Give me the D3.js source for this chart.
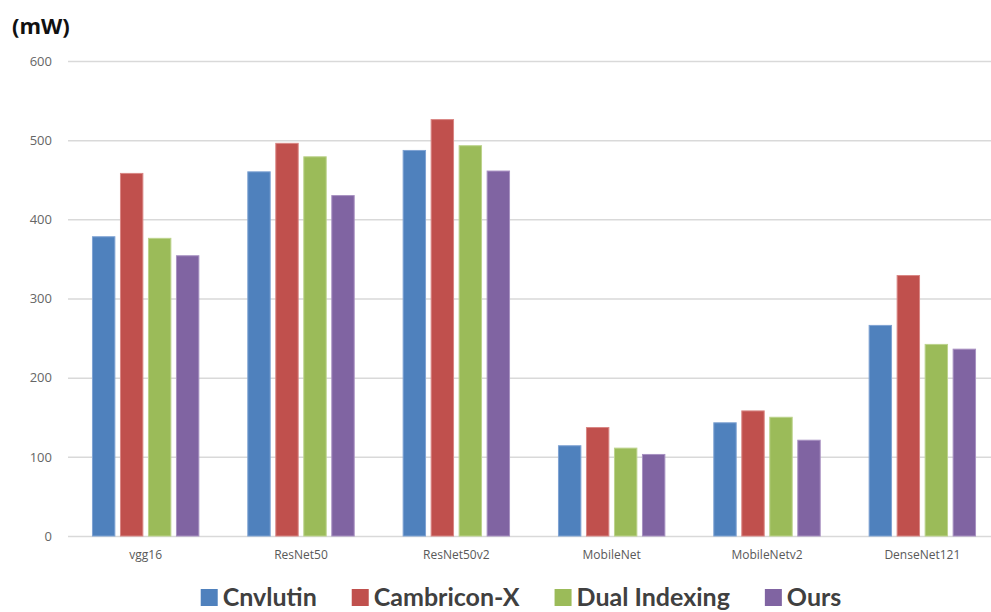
<!DOCTYPE html>
<html>
<head>
<meta charset="utf-8">
<script src="https://cdn.jsdelivr.net/npm/d3@7"></script>
<style>
  html, body { margin: 0; padding: 0; background: #fff; }
  svg { display: block; }
</style>
</head>
<body>
<svg id="chart" width="991" height="612"></svg>
<script>
// Power per network, in mW
const categories = ["vgg16", "ResNet50", "ResNet50v2", "MobileNet", "MobileNetv2", "DenseNet121"];
const seriesNames = ["Cnvlutin", "Cambricon-X", "Dual Indexing", "Ours"];
const cnvlutin     = [378, 460, 487, 114, 143, 266];
const cambriconX   = [458, 496, 526, 137, 158, 329];
const dualIndexing = [376, 479, 493, 111, 150, 242];
const ours         = [354, 430, 461, 103, 121, 236];
const yTicks = [0, 100, 200, 300, 400, 500, 600];
const colors = ["#4F81BD", "#C0504D", "#9BBB59", "#8064A2"];
const strokes = ["#7FA3D3", "#D98684", "#BCD38C", "#A891C2"];

const seriesValues = [cnvlutin, cambriconX, dualIndexing, ours];

const svg = d3.select("#chart");
const plotLeft = 68, plotRight = 1000, plotTop = 61, plotBottom = 536;

const y = d3.scaleLinear().domain([0, 600]).range([plotBottom, plotTop]);
const x0 = d3.scaleBand().domain(categories).range([plotLeft, plotRight]).padding(0);
const groupW = 112;
const x1 = d3.scaleBand().domain(seriesNames).range([-groupW / 2, groupW / 2]).paddingInner(0.2).paddingOuter(0.1);

// Horizontal gridlines and value labels
const yAxis = d3.axisLeft(y).tickValues(yTicks).tickSize(-(plotRight - plotLeft)).tickPadding(16);
const gy = svg.append("g").attr("transform", `translate(${plotLeft},0)`).call(yAxis);
gy.select(".domain").remove();
gy.selectAll(".tick line").attr("stroke", "#d9d9d9").attr("stroke-width", 1.5);
gy.selectAll(".tick text")
  .attr("fill", "#666")
  .style("font-family", "'Open Sans', sans-serif")
  .style("font-size", "13px");

// Bars
const groups = svg.append("g").selectAll("g")
  .data(categories)
  .join("g")
  .attr("transform", c => `translate(${x0(c) + x0.bandwidth() / 2},0)`);

groups.selectAll("rect")
  .data((c, i) => seriesNames.map((s, k) => ({ s, k, v: seriesValues[k][i] })))
  .join("rect")
  .attr("x", d => x1(d.s))
  .attr("width", x1.bandwidth())
  .attr("y", d => y(d.v))
  .attr("height", d => y(0) - y(d.v))
  .attr("fill", d => colors[d.k])
  .attr("stroke", d => strokes[d.k])
  .attr("stroke-width", 1);

// Category labels
const xAxis = d3.axisBottom(x0).tickSize(0).tickPadding(14);
const gx = svg.append("g").attr("transform", `translate(0,${plotBottom})`).call(xAxis);
gx.select(".domain").remove();
gx.selectAll(".tick text")
  .attr("fill", "#595959")
  .style("font-family", "'Open Sans', sans-serif")
  .style("font-size", "12px");

// Unit label
svg.append("text")
  .attr("x", 12).attr("y", 34)
  .attr("fill", "#111")
  .style("font-family", "'Open Sans', sans-serif")
  .style("font-weight", "bold")
  .style("font-size", "22px")
  .text("(mW)");

// Legend
const legend = svg.append("g");
let lx = 0;
seriesNames.forEach((name, k) => {
  const item = legend.append("g").attr("transform", `translate(${lx},0)`);
  item.append("rect").attr("x", 0).attr("y", -17).attr("width", 17).attr("height", 17).attr("fill", colors[k]);
  const t = item.append("text")
    .attr("x", 22).attr("y", 0)
    .attr("fill", "#404040")
    .style("font-family", "Lato, sans-serif")
    .style("font-weight", "bold")
    .style("font-size", "25px")
    .text(name);
  lx += 22 + t.node().getComputedTextLength() + 35;
});
const totalW = lx - 35;
legend.attr("transform", `translate(${521 - totalW / 2},606)`);
</script>
</body>
</html>
